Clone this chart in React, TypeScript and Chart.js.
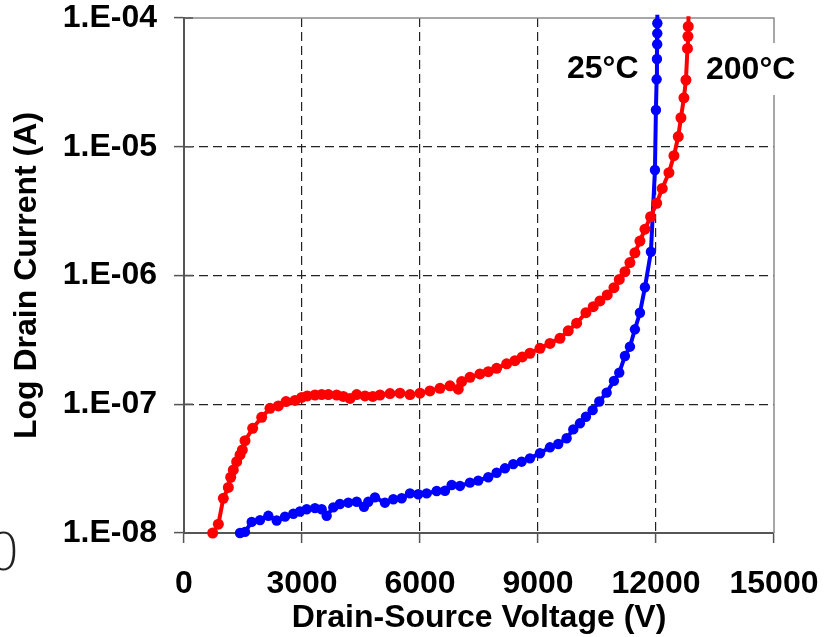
import React, { useEffect, useRef } from "react";
import { Chart, registerables } from "chart.js";

Chart.register(...registerables);

// 200°C series (red)
const redVoltage = [
  729, 873, 1000, 1127, 1187, 1254, 1339, 1424, 1483, 1551, 1746, 1975, 2186, 2398, 2593, 2822,
  2992, 3135, 3330, 3500, 3669, 3881, 4050, 4220, 4390, 4601, 4800, 4982, 5237, 5491, 5745, 5999,
  6253, 6508, 6762, 6973, 7059, 7270, 7524, 7735, 7948, 8203, 8414, 8600, 8795, 9050, 9304, 9558,
  9769, 9982, 10219, 10404, 10575, 10760, 10931, 11066, 11210, 11337, 11464, 11592, 11719, 11863,
  12016, 12159, 12329, 12456, 12566, 12634, 12710, 12761, 12800, 12812, 12820, 12825,
];
const redCurrent = [
  1.0e-8, 1.17e-8, 1.86e-8, 2.26e-8, 2.71e-8, 3.09e-8, 3.58e-8, 4.04e-8, 4.42e-8, 5.21e-8, 6.5e-8,
  7.92e-8, 9.3e-8, 9.7e-8, 1.05e-7, 1.07e-7, 1.13e-7, 1.16e-7, 1.18e-7, 1.19e-7, 1.19e-7, 1.18e-7,
  1.15e-7, 1.11e-7, 1.19e-7, 1.16e-7, 1.15e-7, 1.18e-7, 1.21e-7, 1.22e-7, 1.19e-7, 1.22e-7, 1.27e-7,
  1.33e-7, 1.39e-7, 1.31e-7, 1.5e-7, 1.62e-7, 1.72e-7, 1.79e-7, 1.9e-7, 2.06e-7, 2.18e-7, 2.33e-7,
  2.49e-7, 2.72e-7, 2.97e-7, 3.25e-7, 3.72e-7, 4.26e-7, 5.14e-7, 5.73e-7, 6.34e-7, 7.06e-7, 8.04e-7,
  9.33e-7, 1.07e-6, 1.26e-6, 1.5e-6, 1.85e-6, 2.29e-6, 2.86e-6, 3.64e-6, 4.75e-6, 6.29e-6, 8.53e-6,
  1.2e-5, 1.68e-5, 2.4e-5, 3.3e-5, 5.8e-5, 7.2e-5, 8.6e-5, 1.03e-4,
];

// 25°C series (blue)
const blueVoltage = [
  1424, 1551, 1721, 1932, 2144, 2356, 2568, 2779, 2949, 3119, 3330, 3500, 3627, 3796, 3965, 4177,
  4390, 4576, 4686, 4855, 5109, 5321, 5534, 5745, 5956, 6169, 6424, 6635, 6805, 7016, 7270, 7481,
  7735, 7948, 8160, 8371, 8584, 8795, 9050, 9304, 9515, 9728, 9897, 10067, 10219, 10389, 10558,
  10745, 10931, 11066, 11210, 11337, 11464, 11592, 11719, 11871, 11973, 11998, 12016, 12024, 12030,
  12032, 12034, 12036,
];
const blueCurrent = [
  1.0e-8, 1.02e-8, 1.22e-8, 1.26e-8, 1.36e-8, 1.25e-8, 1.34e-8, 1.41e-8, 1.47e-8, 1.53e-8, 1.56e-8,
  1.53e-8, 1.36e-8, 1.58e-8, 1.68e-8, 1.72e-8, 1.75e-8, 1.6e-8, 1.75e-8, 1.89e-8, 1.72e-8, 1.83e-8,
  1.86e-8, 2.03e-8, 2.0e-8, 2.03e-8, 2.12e-8, 2.13e-8, 2.36e-8, 2.32e-8, 2.46e-8, 2.55e-8, 2.71e-8,
  2.94e-8, 3.18e-8, 3.43e-8, 3.58e-8, 3.8e-8, 4.16e-8, 4.63e-8, 4.91e-8, 5.44e-8, 6.38e-8, 7.11e-8,
  8.0e-8, 9.0e-8, 1.05e-7, 1.23e-7, 1.52e-7, 1.76e-7, 2.37e-7, 2.8e-7, 3.82e-7, 5.14e-7, 8.1e-7,
  1.53e-6, 6.6e-6, 1.93e-5, 3.34e-5, 4.8e-5, 6.25e-5, 7.6e-5, 9.1e-5, 1.06e-4,
];

const seriesNames = ["200°C", "25°C"];
const xTickValues = [0, 3000, 6000, 9000, 12000, 15000];
const yTickValues = [1e-8, 1e-7, 1e-6, 1e-5, 1e-4];
const yTickLabels = ["1.E-08", "1.E-07", "1.E-06", "1.E-05", "1.E-04"];
const xTitle = "Drain-Source Voltage (V)";
const yTitle = "Log Drain Current (A)";
const strayLabel = "0";

const FONT = '"Liberation Sans", Arial, Helvetica, sans-serif';

const toPoints = (xs: number[], ys: number[]) => xs.map((x, i) => ({ x, y: ys[i] }));

const framePlugin = {
  id: "frame",
  beforeDatasetsDraw(chart: any) {
    const { ctx, chartArea } = chart;
    const { left, right, top, bottom } = chartArea;
    ctx.save();
    ctx.strokeStyle = "#8a8a8a";
    ctx.lineWidth = 1.5;
    ctx.setLineDash([]);
    ctx.beginPath();
    ctx.moveTo(left, top);
    ctx.lineTo(right, top);
    ctx.lineTo(right, bottom);
    ctx.stroke();
    // inner halves of y tick marks
    const ys = chart.scales.y;
    ctx.strokeStyle = "#555";
    ctx.lineWidth = 1.5;
    yTickValues.forEach((v) => {
      const p = ys.getPixelForValue(v);
      ctx.beginPath();
      ctx.moveTo(left, p);
      ctx.lineTo(left + 9, p);
      ctx.stroke();
    });
    ctx.restore();
  },
  afterDraw(chart: any) {
    const { ctx, chartArea } = chart;
    const { top, right } = chartArea;
    ctx.save();
    ctx.font = `bold 32px ${FONT}`;
    ctx.textBaseline = "alphabetic";
    ctx.textAlign = "left";
    // 200°C label with white background
    ctx.fillStyle = "#ffffff";
    ctx.fillRect(right - 72, top + 25, 104, 52);
    ctx.fillStyle = "#000";
    ctx.fillText(seriesNames[0], right - 68, top + 61);
    ctx.fillText(seriesNames[1], right - 207, top + 60);
    // stray cut-off label at the far left
    ctx.font = `200 52px "DejaVu Sans", ${FONT}`;
    ctx.fillStyle = "#222";
    ctx.fillText(strayLabel, -13, 570);
    ctx.restore();
  },
};

export default function App() {
  const ref = useRef<HTMLCanvasElement | null>(null);

  useEffect(() => {
    const canvas = ref.current;
    if (!canvas) return;
    const edgeX = (v: number) => v === 0 || v === 15000;
    const edgeY = (v: number) => Math.abs(Math.log10(v) + 8) < 1e-6 || Math.abs(Math.log10(v) + 4) < 1e-6;
    const chart = new Chart(canvas, {
      type: "line",
      data: {
        datasets: [
          {
            label: seriesNames[0],
            data: toPoints(redVoltage, redCurrent),
            borderColor: "#ff0000",
            backgroundColor: "#ff0000",
            borderWidth: 4,
            pointRadius: (c: any) => (c.dataIndex === redVoltage.length - 1 ? 0 : 5.5),
            pointBorderWidth: 0,
            pointBackgroundColor: "#ff0000",
            tension: 0,
            clip: false as any,
          },
          {
            label: seriesNames[1],
            data: toPoints(blueVoltage, blueCurrent),
            borderColor: "#0000ff",
            backgroundColor: "#0000ff",
            borderWidth: 4,
            pointRadius: (c: any) => (c.dataIndex === blueVoltage.length - 1 ? 0 : 5.2),
            pointBorderWidth: 0,
            pointBackgroundColor: "#0000ff",
            tension: 0,
            clip: false as any,
          },
        ],
      },
      options: {
        animation: false,
        responsive: false,
        devicePixelRatio: 1,
        events: [],
        layout: { padding: { top: 18, right: 53, left: 0, bottom: 0 } },
        plugins: { legend: { display: false }, tooltip: { enabled: false } },
        font: { family: FONT },
        scales: {
          x: {
            type: "linear",
            min: 0,
            max: 15000,
            afterFit: (s: any) => {
              s.height = 104;
              s.paddingLeft = 0;
              s.paddingRight = 0;
            },
            afterBuildTicks: (s: any) => {
              s.ticks = xTickValues.map((v) => ({ value: v }));
            },
            ticks: {
              font: { family: FONT, size: 32, weight: "bold" },
              color: "#000",
              padding: 22,
              maxRotation: 0,
              autoSkip: false,
              callback: (v: any) => String(v),
            },
            grid: {
              color: (c: any) => (c.tick && edgeX(c.tick.value) ? "rgba(0,0,0,0)" : "#222"),
              lineWidth: 1.2,
              tickLength: 10,
              tickColor: "#555",
              tickWidth: 1.5,
              tickBorderDash: [],
            },
            border: { display: true, color: "#555", width: 2, dash: [9, 5] },
            title: {
              display: true,
              text: xTitle,
              color: "#000",
              font: { family: FONT, size: 32, weight: "bold" },
              padding: { top: 0, bottom: 0 },
            },
          },
          y: {
            type: "logarithmic",
            min: 1e-8,
            max: 1e-4,
            afterFit: (s: any) => {
              s.width = 184;
              s.paddingTop = 0;
              s.paddingBottom = 0;
            },
            afterBuildTicks: (s: any) => {
              s.ticks = yTickValues.map((v) => ({ value: v }));
            },
            ticks: {
              font: { family: FONT, size: 32, weight: "bold" },
              color: "#000",
              padding: 17,
              autoSkip: false,
              callback: (v: any) => {
                const i = yTickValues.findIndex((t) => Math.abs(Math.log10(t) - Math.log10(v)) < 1e-6);
                return i >= 0 ? yTickLabels[i] : "";
              },
            },
            grid: {
              color: (c: any) => (c.tick && edgeY(c.tick.value) ? "rgba(0,0,0,0)" : "#222"),
              lineWidth: 1.2,
              tickLength: 10,
              tickColor: "#555",
              tickWidth: 1.5,
              tickBorderDash: [],
            },
            border: { display: true, color: "#555", width: 2, dash: [9, 5] },
            title: {
              display: true,
              text: yTitle,
              color: "#000",
              font: { family: FONT, size: 32, weight: "bold" },
              padding: { top: 8, bottom: 0 },
            },
          },
        },
      } as any,
      plugins: [framePlugin as any],
    });
    return () => chart.destroy();
  }, []);

  return (
    <div style={{ position: "absolute", left: 0, top: 0, width: 827, height: 637, background: "#fff" }}>
      <canvas ref={ref} width={827} height={637} style={{ width: 827, height: 637, display: "block" }} />
    </div>
  );
}
